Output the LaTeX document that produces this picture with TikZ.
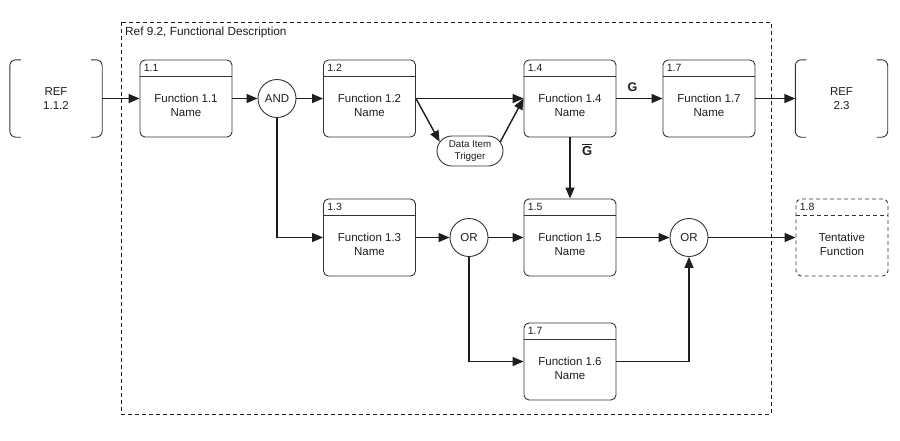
\documentclass[tikz,border=0pt]{standalone}
\usepackage{fontspec}
\setmainfont{Liberation Sans}
\usetikzlibrary{arrows.meta,calc,shapes.misc}
\definecolor{ink}{HTML}{1E1E1E}
\definecolor{edge}{HTML}{333333}
\tikzset{
  fn/.style={draw=edge,line width=0.9pt,rounded corners=5pt,minimum width=92pt,minimum height=77pt,inner sep=0pt,fill=white},
  hdrline/.style={draw=edge,line width=0.9pt},
  num/.style={font=\fontsize{10.5}{12}\selectfont,text=ink,inner sep=0pt,anchor=west},
  ftext/.style={font=\fontsize{11.5}{14}\selectfont,text=ink,align=center,inner sep=0pt},
  gate/.style={circle,draw=edge,line width=0.9pt,minimum size=38pt,inner sep=0pt,font=\fontsize{11.5}{14}\selectfont,text=ink,fill=white},
  refbox/.style={minimum width=92pt,minimum height=77pt,inner sep=0pt,font=\fontsize{11.5}{14}\selectfont,text=ink,align=center},
  refline/.style={draw=edge,line width=0.9pt,rounded corners=6pt},
  arr/.style={draw=ink,line width=1.4pt,-{Triangle[length=11pt,width=9pt]}},
  dashy/.style={dash pattern=on 4pt off 3pt},
}
\newcommand\fnbox[6][]{%
  \node[fn,#1] (#2) at (#3,#4) {};
  \draw[hdrline,#1] ($(#2.north west)+(0,17)$) -- ($(#2.north east)+(0,17)$);
  \node[num] (#2n) at ($(#2.north west)+(4,8.5)$) {#5};
  \node[ftext] (#2t) at ($(#2.center)+(0,7)$) {#6};
}
\newcommand\refnode[4]{%
  \node[refbox] (#1) at (#2,#3) {#4};
  \draw[refline] ($(#1.north west)+(11,0)$) -- (#1.north west) -- (#1.south west) -- ($(#1.south west)+(11,0)$);
  \draw[refline] ($(#1.north east)+(-11,0)$) -- (#1.north east) -- (#1.south east) -- ($(#1.south east)+(-11,0)$);
}
\begin{document}
\begin{tikzpicture}[x=1pt,y=-1pt]
\useasboundingbox[fill=white] (0,0) rectangle (900,440);
% frame
\draw[draw=ink,line width=0.8pt,dashy] (121,22) rectangle (771,414);
\node[anchor=west,inner sep=0pt,font=\fontsize{11.8}{14}\selectfont,text=ink] (frametitle) at (125,32) {Ref 9.2, Functional Description};
% nodes
\refnode{ref1}{56}{98.5}{REF\\1.1.2}
\fnbox{f11}{186}{98.5}{1.1}{Function 1.1\\Name}
\node[gate] (and) at (277,98.5) {AND};
\fnbox{f12}{369.5}{98.5}{1.2}{Function 1.2\\Name}
\node[rounded rectangle,draw=edge,line width=0.9pt,minimum width=66pt,minimum height=30pt,inner sep=0pt,align=center,font=\fontsize{9.8}{12}\selectfont,text=ink,fill=white] (dit) at (470,151) {Data Item\\Trigger};
\fnbox{f14}{570}{98.5}{1.4}{Function 1.4\\Name}
\fnbox{f17}{709}{98.5}{1.7}{Function 1.7\\Name}
\refnode{ref2}{841.5}{98.5}{REF\\2.3}
\fnbox{f13}{369.5}{237.5}{1.3}{Function 1.3\\Name}
\node[gate] (or1) at (469,237.5) {OR};
\fnbox{f15}{570}{237.5}{1.5}{Function 1.5\\Name}
\node[gate] (or2) at (689,237.5) {OR};
\fnbox[dashy]{f18}{842}{237.5}{1.8}{Tentative\\Function}
\fnbox{f16}{570}{361.5}{1.7}{Function 1.6\\Name}
% connectors
\draw[arr] (ref1.east) -- (f11.west);
\draw[arr] (f11.east) -- (and.west);
\draw[arr] (and.east) -- (f12.west);
\draw[arr] (and.south) |- (f13.west);
\draw[arr] (f12.east) -- (f14.west);
\draw[arr] (f12.east) -- (dit.163);
\draw[arr] (dit.17) -- (f14.west);
\draw[arr] (f14.east) -- node[above=3pt,pos=0.35,font=\bfseries\fontsize{12.5}{14}\selectfont,text=ink] (glabel) {G} (f17.west);
\draw[arr] (f17.east) -- (ref2.west);
\draw[arr] (f14.south) -- node[right=8pt,pos=0.2,text=ink] (gbar) {$\overline{\textbf{\fontsize{13}{15}\selectfont G}}$} (f15.north);
\draw[arr] (f13.east) -- (or1.west);
\draw[arr] (or1.east) -- (f15.west);
\draw[arr] (f15.east) -- (or2.west);
\draw[arr] (or2.east) -- (f18.west);
\draw[arr] (or1.south) |- (f16.west);
\draw[arr] (f16.east) -| (or2.south);
\end{tikzpicture}
\end{document}
